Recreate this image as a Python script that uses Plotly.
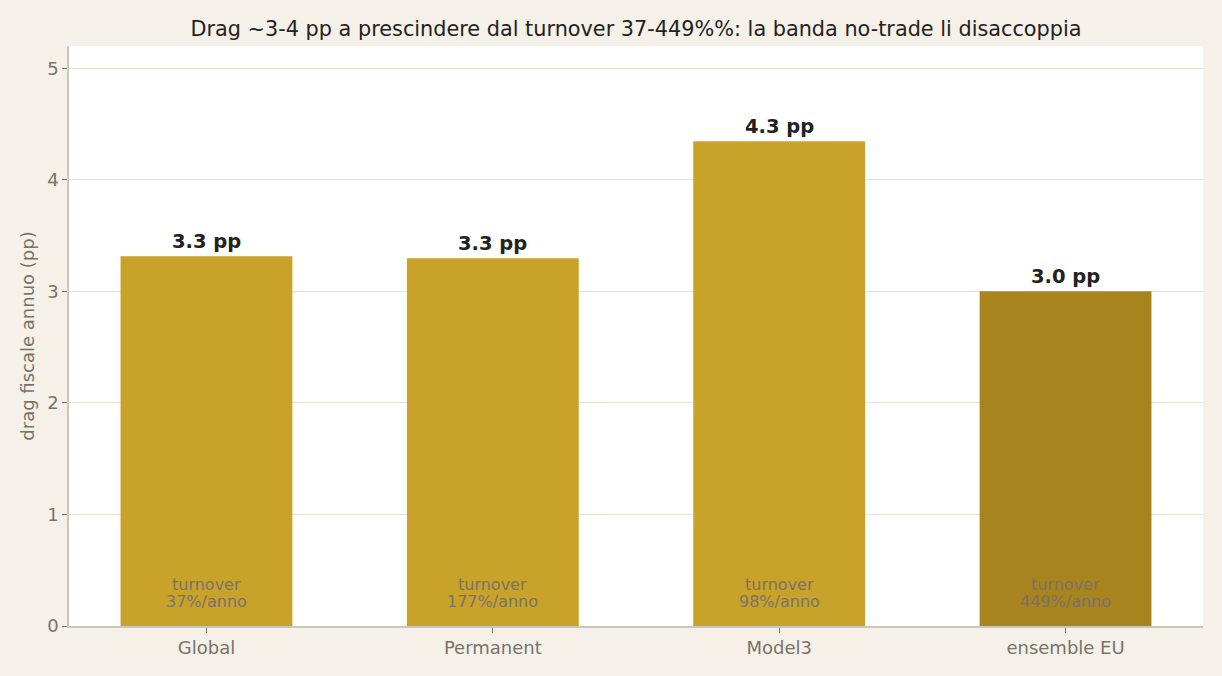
import plotly.graph_objects as go

categories = ["Global", "Permanent", "Model3", "ensemble EU"]
drag_pp = [3.315, 3.297, 4.346, 3.002]
value_labels = ["3.3 pp", "3.3 pp", "4.3 pp", "3.0 pp"]
turnover_line1 = ["turnover", "turnover", "turnover", "turnover"]
turnover_line2 = ["37%/anno", "177%/anno", "98%/anno", "449%/anno"]
bar_colors = ["#C9A229", "#C9A229", "#C9A229", "#A8841E"]

font_family = "DejaVu Sans"

fig = go.Figure()
fig.add_trace(go.Bar(
    x=categories, y=drag_pp, width=0.6,
    marker=dict(color=bar_colors, line=dict(width=0)),
    hoverinfo="skip", showlegend=False,
))

annotations = []
for c, v, lab, t1, t2 in zip(categories, drag_pp, value_labels, turnover_line1, turnover_line2):
    annotations.append(dict(x=c, y=v, xref="x", yref="y", text="<b>" + lab + "</b>",
                            showarrow=False, yanchor="middle", yshift=15,
                            font=dict(family=font_family, size=19.5, color="#222222")))
    annotations.append(dict(x=c, y=0, xref="x", yref="y", text=t1,
                            showarrow=False, yanchor="middle", yshift=42,
                            font=dict(family=font_family, size=16, color="#77736A")))
    annotations.append(dict(x=c, y=0, xref="x", yref="y", text=t2,
                            showarrow=False, yanchor="middle", yshift=25,
                            font=dict(family=font_family, size=16, color="#77736A")))

fig.update_layout(
    width=1222, height=676,
    margin=dict(l=69, r=19, t=46, b=50),
    paper_bgcolor="#F5F0E8",
    plot_bgcolor="#FFFFFF",
    font=dict(family=font_family, color="#77736A", size=18),
    title=dict(text="Drag ~3-4 pp a prescindere dal turnover 37-449%%: la banda no-trade li disaccoppia",
               x=0.5, xref="paper", y=0.958, yref="container", yanchor="middle",
               font=dict(family=font_family, size=20.8, color="#222222")),
    annotations=annotations,
    bargap=0.4,
)
fig.update_xaxes(range=[-0.48, 3.48], showline=True, linecolor="#CCC6B4", linewidth=1.5,
                 ticks="outside", ticklen=5, tickcolor="#77736A",
                 tickfont=dict(size=18, color="#77736A"), showgrid=False)
fig.update_yaxes(range=[0, 5.2], dtick=1, showline=True, linecolor="#CCC6B4", linewidth=1.5,
                 ticks="outside", ticklen=5, tickcolor="#77736A",
                 gridcolor="#E6E2D2", gridwidth=1, zeroline=False,
                 tickfont=dict(size=18, color="#77736A"),
                 title=dict(text="drag fiscale annuo (pp)", font=dict(size=18, color="#77736A"), standoff=8))

fig.write_html("out.html")
